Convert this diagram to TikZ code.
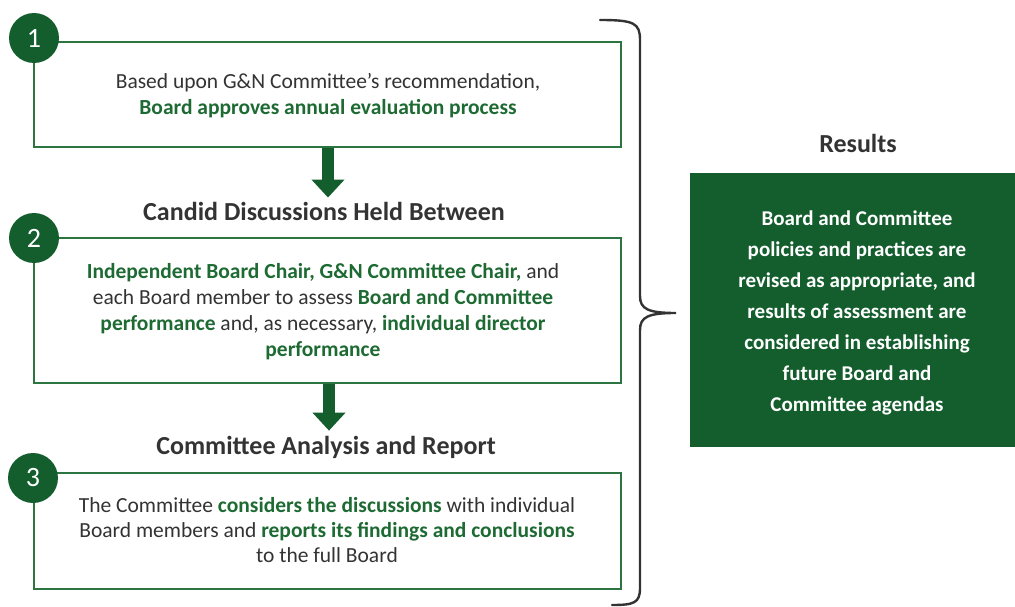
\documentclass[tikz,border=0pt]{standalone}
\usepackage{fontspec}
\setmainfont{Carlito}
\usetikzlibrary{arrows.meta}
\definecolor{dkgreen}{HTML}{145E2E}
\definecolor{txgreen}{HTML}{1E6A33}
\definecolor{boxline}{HTML}{2C7440}
\definecolor{txgray}{HTML}{333333}
\newcommand{\gb}[1]{\textbf{\color{txgreen}#1}}
\tikzset{
  stepframe/.style={draw=boxline, line width=1.6pt, minimum width=587pt, inner sep=0pt, anchor=center},
  numcirc/.style={circle, fill=dkgreen, minimum size=50pt, inner sep=0pt, text=white, font=\fontsize{28}{30}\selectfont},
  bodytxt/.style={align=center, text=txgray, font=\fontsize{21.5}{26}\selectfont, inner sep=0pt},
  headtxt/.style={text=txgray, font=\bfseries\fontsize{26}{28}\selectfont, inner sep=0pt},
  bigarrow/.style={draw=dkgreen, line width=12pt, -{Triangle[width=32pt,length=18pt]}},
  bracestyle/.style={draw=txgray, line width=2.4pt, line cap=round}
}
\begin{document}
\begin{tikzpicture}[x=1pt,y=-1pt]
\useasboundingbox (0,0) rectangle (1015,607);
% boxes
\node[stepframe, minimum height=105pt] (b1) at (327.5,94.5) {};
\node[stepframe, minimum height=145pt] (b2) at (327.5,310.5) {};
\node[stepframe, minimum height=116pt] (b3) at (327.5,531) {};
% circles
\node[numcirc] (c1) at (34,38) {1};
\node[numcirc] (c2) at (34,238) {2};
\node[numcirc] (c3) at (33,478) {3};
% texts
\node[bodytxt] (t1) at (328,96) {Based upon G\&N Committee’s recommendation,\\ \gb{Board approves annual evaluation process}};
\node[bodytxt] (t2) at (323,312) {\gb{Independent Board Chair, G\&N Committee Chair,} and\\ each Board member to assess \gb{Board and Committee}\\ \gb{performance} and, as necessary, \gb{individual director}\\ \gb{performance}};
\node[bodytxt, font=\fontsize{21.5}{25}\selectfont] (t3) at (327,530) {The Committee \gb{considers the discussions} with individual\\ Board members and \gb{reports its findings and conclusions}\\ to the full Board};
% headings
\node[headtxt] (h2) at (324,211) {Candid Discussions Held Between};
\node[headtxt] (h3) at (326,447) {Committee Analysis and Report};
% arrows
\draw[bigarrow, shorten >=4pt] (b1.south -| 328,0) -- (h2.north -| 328,0);
\draw[bigarrow, shorten >=5pt] (b2.south -| 329,0) -- (h3.north -| 329,0);
% brace
\draw[bracestyle] (600,20) .. controls (634,20) and (640,23) .. (640,40) -- (640,296)
  .. controls (640,309) and (648,313) .. (676,313)
  .. controls (648,313) and (640,317) .. (640,330) -- (640,588)
  .. controls (640,603) and (634,605) .. (612,605);
% results
\node[headtxt] (rh) at (858,143) {Results};
\node[fill=dkgreen, minimum width=325pt, minimum height=274pt, inner sep=0pt] (rb) at (852.5,310) {};
\node[align=center, text=white, font=\bfseries\fontsize{21}{31}\selectfont, inner sep=0pt] (rt) at (857,313)
  {Board and Committee\\ policies and practices are\\ revised as appropriate, and\\ results of assessment are\\ considered in establishing\\ future Board and\\ Committee agendas};
\end{tikzpicture}
\end{document}
